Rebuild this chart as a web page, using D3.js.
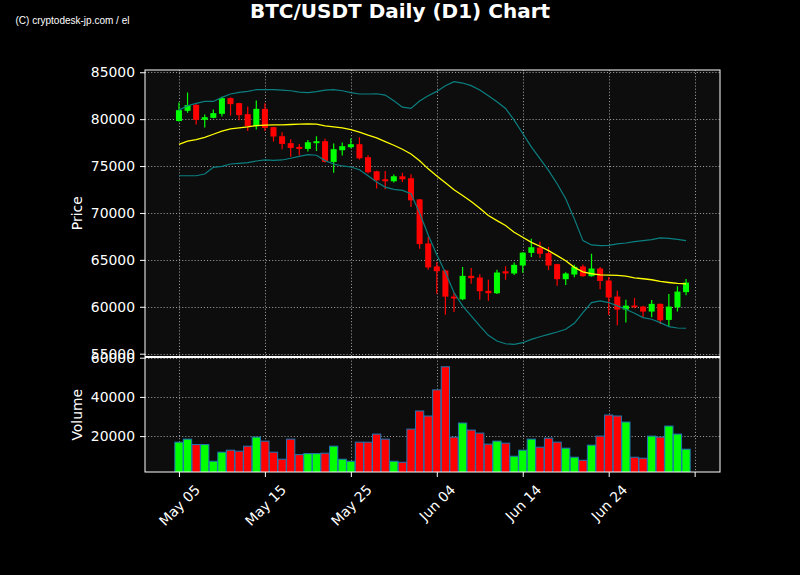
<!DOCTYPE html>
<html>
<head>
<meta charset="utf-8">
<script src="https://cdn.jsdelivr.net/npm/d3@7"></script>
<style>
  html, body { margin: 0; padding: 0; background: #000; }
  svg { display: block; }
  text { font-family: "DejaVu Sans", sans-serif; fill: #fff; }
</style>
</head>
<body>
<div id="chart"></div>
<script>
// daily candles, May 05 -> Jul 03 (index 0 = May 05)
var opens  = [79800,80890,81530,79930,80140,80570,82240,81710,80530,79250,
              81100,79150,78180,77440,77040,76830,77440,77650,75440,76690,
              77010,77330,75940,74440,73590,73380,73910,73700,71450,66750,
              64300,63870,61090,60800,63300,63120,61700,61440,63780,63550,
              64400,65750,66310,65720,64540,62940,63440,64300,63260,64080,
              62800,61090,59700,60130,60020,59490,60310,58600,59950,61560];
var highs  = [81780,82850,81600,80500,81040,82400,82300,81750,81350,82000,
              81700,79200,78600,77850,77360,77790,78170,77900,77400,77510,
              77940,78080,76150,74500,74480,74100,74300,74120,71500,67430,
              64780,63950,61520,64240,64130,63480,62880,63960,64320,64720,
              65800,67250,66920,66360,64600,63690,64470,64520,65650,64250,
              63180,61700,60740,60930,60100,60720,60350,61370,62180,62950];
var lows   = [79750,80680,79430,79110,80100,80280,80390,79890,78750,78900,
              78750,77620,76780,76000,76130,76550,76610,75370,74300,76120,
              76900,75690,74200,72600,72520,73240,73300,70630,66190,63960,
              61400,59150,59450,60700,62450,60740,60640,61360,62870,63390,
              63620,65300,65200,63930,62230,62320,63160,63200,63200,61880,
              59120,58040,58320,59850,58900,58880,58150,57860,59500,61240];
var closes = [80960,81500,79930,80210,80640,82240,81600,80430,79250,81100,
              79070,78150,77360,76930,76830,77540,77650,75440,76800,77120,
              77330,75830,74340,73480,73380,73910,73590,71350,66680,64190,
              63790,61080,60880,63300,63050,61660,61450,63650,63550,64470,
              65770,66350,65650,64400,62940,63550,64260,63260,64080,62760,
              60990,59700,60120,59950,59490,60310,58560,60020,61620,62580];
var volumes = [16920,18460,15700,15700,7180,11800,12820,12310,14870,19490,
               17440,11800,8210,18460,10560,11080,11080,11280,14870,8210,
               7180,16920,16920,21030,18460,7180,6670,23590,32820,30260,
               43590,55380,19490,26670,23080,21540,15900,17440,16410,9740,
               12820,18460,14360,18970,16920,13850,9230,7690,15380,20000,
               30770,30260,27180,9230,8720,20000,19490,25130,21030,13330];

// 20-day moving average and bands
var midBand   = [77320,77650,77820,78070,78390,78720,78970,79070,79180,79320,
                 79360,79390,79390,79430,79470,79500,79470,79290,79180,79070,
                 78890,78610,78290,78000,77610,77220,76790,76290,75560,74700,
                 73950,73220,72470,71870,71230,70510,69730,69190,68660,67940,
                 67410,66870,66450,65980,65450,64910,64200,63730,63520,63410,
                 63380,63340,63270,63090,62990,62880,62700,62590,62490,62450];
var upperBand = [80960,81430,81680,81890,81890,82320,82680,82850,82960,83140,
                 83140,83140,83100,83030,82890,82820,82930,83100,83140,83030,
                 82820,82680,82680,82710,82570,81960,81280,81140,81930,82500,
                 82960,83570,84000,83850,83570,83100,82500,81850,81140,79890,
                 78470,77040,75790,74540,73120,71510,69370,67050,66590,66520,
                 66550,66700,66800,66950,67050,67160,67340,67300,67190,67050];
var lowerBand = [73970,73970,73970,74150,74860,74970,75220,75290,75360,75540,
                 75650,75610,75650,75830,76040,76220,76150,75580,75220,75010,
                 74900,74610,73970,73290,72760,72510,72400,72050,70000,67650,
                 65550,63660,61520,60100,59030,57960,56960,56350,56060,55990,
                 56170,56530,56810,57060,57310,57600,58240,59380,60450,60630,
                 60450,60100,59740,59310,58850,58670,58310,57880,57740,57710];

var tickDays   = [0, 10, 20, 30, 40, 50, 60];
var tickLabels = ["May 05", "May 15", "May 25", "Jun 04", "Jun 14", "Jun 24", ""];
var priceTicks  = [55000, 60000, 65000, 70000, 75000, 80000, 85000];
var volumeTicks = [20000, 40000, 60000];

var width = 800, height = 575;
var left = 145, right = 720;
var priceTop = 70, priceBottom = 356.5;
var volTop = 357.5, volBottom = 472;
var fs = 13.9;
var up = "#00ff00", down = "#ff0000";

var candles = opens.map(function(o, i) {
  return { i: i, o: o, h: highs[i], l: lows[i], c: closes[i], v: volumes[i],
           mid: midBand[i], upper: upperBand[i], lower: lowerBand[i] };
});

var x = d3.scaleLinear().domain([-3.95, 62.95]).range([left, right]);
var yP = d3.scaleLinear().domain([54700, 85240]).range([priceBottom, priceTop]);
var yV = d3.scaleLinear().domain([1700, 60100]).range([volBottom, volTop]);
var dx = x(1) - x(0);

var svg = d3.select("#chart").append("svg")
    .attr("width", width)
    .attr("height", height);

svg.append("rect").attr("width", width).attr("height", height).attr("fill", "#000");

// titles
svg.append("text")
    .attr("x", 400).attr("y", 17.5)
    .attr("text-anchor", "middle")
    .style("font-size", "20px").style("font-weight", "bold")
    .text("BTC/USDT Daily (D1) Chart");

svg.append("text")
    .attr("x", 15.5).attr("y", 24)
    .style("font-family", "'Liberation Sans', Arial, sans-serif")
    .style("font-size", "10px")
    .text("(C) cryptodesk-jp.com / el");

var defs = svg.append("defs");
defs.append("clipPath").attr("id", "clipP").append("rect")
    .attr("x", left).attr("y", priceTop).attr("width", right - left).attr("height", priceBottom - priceTop);
defs.append("clipPath").attr("id", "clipV").append("rect")
    .attr("x", left).attr("y", volTop).attr("width", right - left).attr("height", volBottom - volTop);

function panel(top, bottom, yScale, ticks, clipId) {
  var g = svg.append("g");
  g.append("rect")
      .attr("x", left).attr("y", top)
      .attr("width", right - left).attr("height", bottom - top)
      .attr("fill", "#0d0d0d");
  // grid
  var grid = g.append("g").attr("stroke", "#9a9a9a").attr("stroke-width", 1)
      .attr("stroke-dasharray", "1.1,2");
  grid.selectAll(".gx").data(tickDays).enter().append("line")
      .attr("x1", function(d) { return Math.round(x(d)) + 0.5; })
      .attr("x2", function(d) { return Math.round(x(d)) + 0.5; })
      .attr("y1", top).attr("y2", bottom);
  grid.selectAll(".gy").data(ticks).enter().append("line")
      .attr("x1", left).attr("x2", right)
      .attr("y1", function(d) { return Math.round(yScale(d)) + 0.5; })
      .attr("y2", function(d) { return Math.round(yScale(d)) + 0.5; });
  var content = g.append("g").attr("clip-path", "url(#" + clipId + ")");
  return { g: g, content: content };
}

var pricePanel = panel(priceTop, priceBottom, yP, priceTicks, "clipP");
var volPanel = panel(volTop, volBottom, yV, volumeTicks, "clipV");

// candles
var cg = pricePanel.content.selectAll(".candle").data(candles).enter().append("g");
cg.append("line")
    .attr("x1", function(d) { return x(d.i); })
    .attr("x2", function(d) { return x(d.i); })
    .attr("y1", function(d) { return yP(d.h); })
    .attr("y2", function(d) { return yP(d.l); })
    .attr("stroke", function(d) { return d.c >= d.o ? up : down; })
    .attr("stroke-width", 1.2);
cg.append("rect")
    .attr("x", function(d) { return x(d.i) - dx * 0.35; })
    .attr("width", dx * 0.7)
    .attr("y", function(d) { return yP(Math.max(d.o, d.c)); })
    .attr("height", function(d) { return Math.max(1.5, yP(Math.min(d.o, d.c)) - yP(Math.max(d.o, d.c))); })
    .attr("fill", function(d) { return d.c >= d.o ? up : down; });

// bands and moving average
function bandLine(key) {
  return d3.line().x(function(d) { return x(d.i); }).y(function(d) { return yP(d[key]); });
}
pricePanel.content.append("path").datum(candles).attr("d", bandLine("upper"))
    .attr("fill", "none").attr("stroke", "#0b7f80").attr("stroke-width", 1.2);
pricePanel.content.append("path").datum(candles).attr("d", bandLine("lower"))
    .attr("fill", "none").attr("stroke", "#0b7f80").attr("stroke-width", 1.2);
pricePanel.content.append("path").datum(candles).attr("d", bandLine("mid"))
    .attr("fill", "none").attr("stroke", "#ffff00").attr("stroke-width", 1.3);

// volume bars
volPanel.content.selectAll(".vol").data(candles).enter().append("rect")
    .attr("x", function(d) { return x(d.i) - dx * 0.48; })
    .attr("width", dx * 0.96)
    .attr("y", function(d) { return yV(d.v); })
    .attr("height", function(d) { return volBottom - yV(d.v) + 2; })
    .attr("fill", function(d) { return d.c >= d.o ? up : down; })
    .attr("stroke", "#1f77b4")
    .attr("stroke-width", 1);

// frames
[[priceTop, priceBottom], [volTop, volBottom]].forEach(function(p) {
  svg.append("rect")
      .attr("x", left).attr("y", p[0])
      .attr("width", right - left).attr("height", p[1] - p[0])
      .attr("fill", "none").attr("stroke", "#fff").attr("stroke-width", 1);
});

function styleAxis(g) {
  g.select(".domain").remove();
  g.selectAll(".tick line").attr("stroke", "#fff");
  g.selectAll(".tick text").style("font-size", fs + "px").attr("fill", "#fff");
}

svg.append("g").attr("transform", "translate(" + left + ",0)")
    .call(d3.axisLeft(yP).tickValues(priceTicks).tickFormat(d3.format("d")).tickSize(5).tickPadding(5))
    .call(styleAxis);
svg.append("g").attr("transform", "translate(" + left + ",0)")
    .call(d3.axisLeft(yV).tickValues(volumeTicks).tickFormat(d3.format("d")).tickSize(5).tickPadding(5))
    .call(styleAxis);

var xAxis = svg.append("g").attr("transform", "translate(0," + volBottom + ")")
    .call(d3.axisBottom(x).tickValues(tickDays)
      .tickFormat(function(d, i) { return tickLabels[i]; })
      .tickSize(5).tickPadding(5))
    .call(styleAxis);
xAxis.selectAll(".tick text")
    .attr("y", null).attr("dy", null)
    .attr("text-anchor", "middle")
    .attr("dominant-baseline", "central")
    .attr("transform", function() {
      var len = this.getComputedTextLength();
      var h = (len + fs * 1.05) * Math.SQRT1_2;
      return "translate(0," + (10 + h / 2) + ") rotate(-45)";
    });

// axis labels
svg.append("text")
    .attr("transform", "translate(82," + ((priceTop + priceBottom) / 2) + ") rotate(-90)")
    .attr("text-anchor", "middle")
    .style("font-size", fs + "px")
    .text("Price");
svg.append("text")
    .attr("transform", "translate(82," + ((volTop + volBottom) / 2) + ") rotate(-90)")
    .attr("text-anchor", "middle")
    .style("font-size", fs + "px")
    .text("Volume");
</script>
</body>
</html>
